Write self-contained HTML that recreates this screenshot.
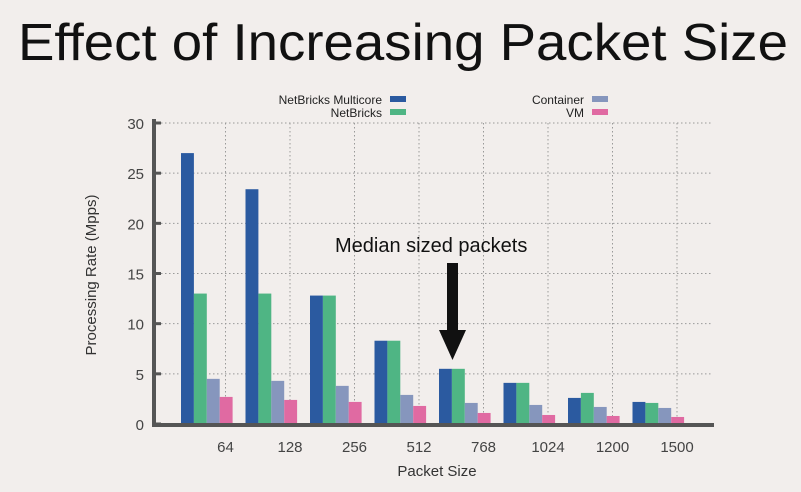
<!DOCTYPE html>
<html><head><meta charset="utf-8"><style>
body{margin:0;background:#f2eeec;}
svg{display:block;font-family:"Liberation Sans",sans-serif;}
</style></head><body>
<svg id="c" width="801" height="492">
<rect width="801" height="492" fill="#f2eeec"/>
<text x="18" y="60" font-size="52" textLength="770" lengthAdjust="spacingAndGlyphs" fill="#111">Effect of Increasing Packet Size</text>
<g id="grid"></g>
<g id="bars"></g>
<g id="axes"></g>
<text x="0" y="0" transform="translate(96,275) rotate(-90)" text-anchor="middle" font-size="15" fill="#333">Processing Rate (Mpps)</text>
<text x="437" y="476" text-anchor="middle" font-size="15" fill="#333">Packet Size</text>
<g font-size="12" fill="#222">
<text x="382" y="104" text-anchor="end">NetBricks Multicore</text>
<rect x="390" y="96" width="16" height="6" fill="#2b5aa0"/>
<text x="382" y="117" text-anchor="end">NetBricks</text>
<rect x="390" y="109" width="16" height="6" fill="#4fb584"/>
<text x="584" y="104" text-anchor="end">Container</text>
<rect x="592" y="96" width="16" height="6" fill="#8696bd"/>
<text x="584" y="117" text-anchor="end">VM</text>
<rect x="592" y="109" width="16" height="6" fill="#e06aa2"/>
</g>
<text x="335" y="252" font-size="20" fill="#111">Median sized packets</text>
<g>
<rect x="447" y="263" width="11" height="70" fill="#111"/>
<polygon points="439,330 466,330 452.5,360" fill="#111"/>
</g>
</svg>
<script>
const categories=["64","128","256","512","768","1024","1200","1500"];
const multicore=[27,23.4,12.8,8.3,5.5,4.1,2.6,2.2];
const netbricks=[13,13,12.8,8.3,5.5,4.1,3.1,2.1];
const container=[4.5,4.3,3.8,2.9,2.1,1.9,1.7,1.6];
const vm=[2.7,2.4,2.2,1.8,1.1,0.9,0.8,0.7];
const yTicks=[0,5,10,15,20,25,30];
const NS="http://www.w3.org/2000/svg";
const x0=181,gw=64.5,bw=12.9,yBase=424,yTop=123;
const y=v=>yBase-(v/30)*(yBase-yTop);
function mk(tag,attrs,parent){const e=document.createElementNS(NS,tag);for(const k in attrs)e.setAttribute(k,attrs[k]);parent.appendChild(e);return e;}
const grid=document.getElementById('grid'),bars=document.getElementById('bars'),axes=document.getElementById('axes');
yTicks.forEach(t=>{
 if(t>0){const l=mk('line',{x1:153,x2:712,y1:y(t),y2:y(t),stroke:'#999','stroke-dasharray':'1.5,2.5','stroke-width':1},grid);
 
 }
 const tx=mk('text',{x:144,y:y(t)+6,'text-anchor':'end','font-size':15,fill:'#444'},axes);tx.textContent=t;
 
 
 const tk=mk('line',{x1:153,x2:161,y1:y(t),y2:y(t),stroke:'#555','stroke-width':3},axes);
 
 
});
const series=[[multicore,'#2b5aa0','multicore'],[netbricks,'#4fb584','netbricks'],[container,'#8696bd','container'],[vm,'#e06aa2','vm']];
categories.forEach((c,i)=>{
 const gx=x0+i*gw;
 const gl=mk('line',{x1:gx+44.5,x2:gx+44.5,y1:yTop,y2:yBase,stroke:'#999','stroke-dasharray':'1.5,2.5'},grid);
 
 
 series.forEach((s,j)=>{
  const r=mk('rect',{x:gx+j*bw,y:y(s[0][i]),width:bw,height:yBase-y(s[0][i]),fill:s[1]},bars);
  
  
 });
 const t=mk('text',{x:gx+44.5,y:452,'text-anchor':'middle','font-size':15,fill:'#444'},axes);t.textContent=c;
 
 
});
const ya=mk('line',{x1:154,x2:154,y1:119,y2:426,stroke:'#555','stroke-width':4},axes);


const xa=mk('line',{x1:152,x2:714,y1:425,y2:425,stroke:'#555','stroke-width':4},axes);


</script>
</body></html>
